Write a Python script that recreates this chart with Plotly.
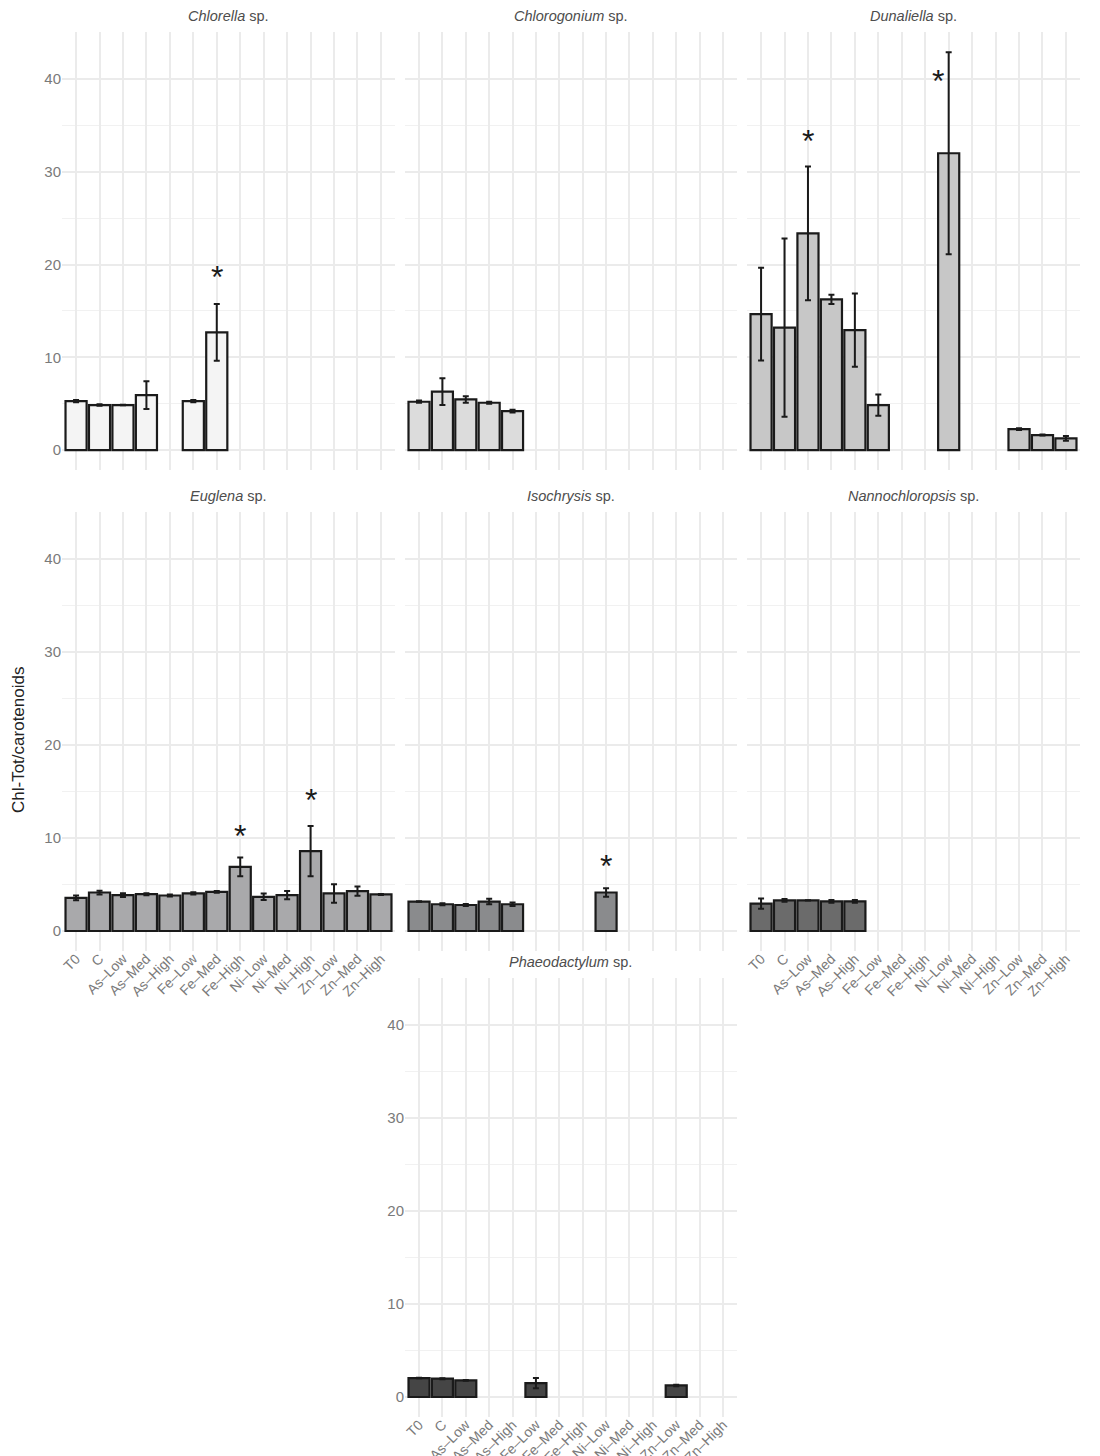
import plotly.graph_objects as go

# page offset of the plot div (browser default body margin)
OFF = 8
W, H = 1100 - OFF, 1456

categories = ["T0", "C", "As–Low", "As–Med", "As–High", "Fe–Low", "Fe–Med", "Fe–High",
              "Ni–Low", "Ni–Med", "Ni–High", "Zn–Low", "Zn–Med", "Zn–High"]

species = ["Chlorella", "Chlorogonium", "Dunaliella", "Euglena", "Isochrysis",
           "Nannochloropsis", "Phaeodactylum"]

N = None
chlorella_mean = [5.28, 4.85, 4.85, 5.93, N, 5.28, 12.69, N, N, N, N, N, N, N]
chlorella_err = [0.12, 0.08, 0.03, 1.5, N, 0.12, 3.05, N, N, N, N, N, N, N]
chlorogonium_mean = [5.21, 6.29, 5.46, 5.1, 4.2, N, N, N, N, N, N, N, N, N]
chlorogonium_err = [0.12, 1.44, 0.35, 0.12, 0.15, N, N, N, N, N, N, N, N, N]
dunaliella_mean = [14.66, 13.2, 23.36, 16.25, 12.94, 4.85, N, N, 32.0, N, N, 2.26, 1.62, 1.26]
dunaliella_err = [5.0, 9.6, 7.2, 0.5, 3.95, 1.15, N, N, 10.9, N, N, 0.1, 0.05, 0.25]
euglena_mean = [3.57, 4.14, 3.86, 3.96, 3.82, 4.04, 4.21, 6.9, 3.68, 3.86, 8.6, 4.04, 4.29, 3.93]
euglena_err = [0.25, 0.2, 0.2, 0.1, 0.1, 0.12, 0.1, 1.0, 0.35, 0.45, 2.7, 1.0, 0.5, 0.05]
isochrysis_mean = [3.17, 2.88, 2.8, 3.17, 2.88, N, N, N, 4.14, N, N, N, N, N]
isochrysis_err = [0.03, 0.1, 0.1, 0.3, 0.2, N, N, N, 0.45, N, N, N, N, N]
nannochloropsis_mean = [2.94, 3.3, 3.3, 3.19, 3.19, N, N, N, N, N, N, N, N, N]
nannochloropsis_err = [0.55, 0.15, 0.02, 0.15, 0.15, N, N, N, N, N, N, N, N, N]
phaeodactylum_mean = [2.04, 1.97, 1.79, N, N, 1.5, N, N, N, N, N, 1.25, N, N]
phaeodactylum_err = [0.03, 0.05, 0.03, N, N, 0.55, N, N, N, N, N, 0.08, N, N]

means = [chlorella_mean, chlorogonium_mean, dunaliella_mean, euglena_mean,
         isochrysis_mean, nannochloropsis_mean, phaeodactylum_mean]
errs = [chlorella_err, chlorogonium_err, dunaliella_err, euglena_err,
        isochrysis_err, nannochloropsis_err, phaeodactylum_err]

fills = ["#f4f4f4", "#dcdcdc", "#c7c7c7", "#a9a9ab", "#8a8b8d", "#6b6b6b", "#454545"]

# significance stars: (species index, category, y position, horizontal nudge px)
stars = [(0, "Fe–Med", 18.9, 0), (2, "As–Low", 33.5, 0), (2, "Ni–Low", 40.0, -11),
         (3, "Fe–High", 10.4, 0), (3, "Ni–High", 14.3, 0), (4, "Ni–Low", 7.2, 0)]

# panel pixel boxes in page pixels (left, right), (top, bottom)
cols = [(62, 395), (405, 737), (747, 1080)]
rows = [(32, 470), (512, 951), (978, 1417)]
panel_pos = [(0, 0), (0, 1), (0, 2), (1, 0), (1, 1), (1, 2), (2, 1)]
show_x = [False, False, False, True, False, True, True]
show_y = [True, False, False, True, False, False, True]

FONT = "Liberation Sans, Arial, sans-serif"
GRID = "#ebebeb"


def fx(px):
    return (px - OFF) / W


def fy(py):
    return 1 - (py - OFF) / H


fig = go.Figure()
layout = {}
annotations = []

for i, sp in enumerate(species):
    k = i + 1
    r, c = panel_pos[i]
    x0, x1 = cols[c]
    y0, y1 = rows[r]
    xa = "xaxis" if k == 1 else f"xaxis{k}"
    ya = "yaxis" if k == 1 else f"yaxis{k}"
    xref = "x" if k == 1 else f"x{k}"
    yref = "y" if k == 1 else f"y{k}"
    err = [e if e is not None else 0 for e in errs[i]]
    fig.add_trace(go.Bar(
        x=categories, y=means[i], xaxis=xref, yaxis=yref, width=0.9,
        marker=dict(color=fills[i], line=dict(color="#1a1a1a", width=2.2)),
        error_y=dict(type="data", array=err, color="#1a1a1a", thickness=2, width=3, visible=True),
        showlegend=False,
    ))
    layout[xa] = dict(
        domain=[fx(x0), fx(x1)], anchor=yref, type="category", automargin=False,
        categoryorder="array", categoryarray=categories, range=[-0.6, 13.6],
        showgrid=True, gridcolor=GRID, gridwidth=1.6, zeroline=False, showline=False,
        ticks="", showticklabels=show_x[i], tickangle=-45, ticklabelstandoff=-4,
        tickfont=dict(family=FONT, size=14, color="#7a7a7a"), fixedrange=True,
    )
    layout[ya] = dict(
        domain=[fy(y1), fy(y0)], anchor=xref, range=[-2.15, 45.07], automargin=False,
        tick0=0, dtick=10, showgrid=True, gridcolor=GRID, gridwidth=1.6,
        minor=dict(tick0=0, dtick=5, showgrid=True, gridcolor="#f1f1f1", gridwidth=1),
        zeroline=False, showline=False, ticks="", showticklabels=show_y[i],
        tickfont=dict(family=FONT, size=15, color="#7a7a7a"), fixedrange=True,
    )
    annotations.append(dict(
        text=f"<i>{sp}</i> sp.", xref="paper", yref="paper",
        x=fx((x0 + x1) / 2), y=fy(y0 - 16), xanchor="center", yanchor="middle",
        showarrow=False, font=dict(family=FONT, size=14.5, color="#4d4d4d"),
    ))

for si, cat, yv, xs in stars:
    k = si + 1
    annotations.append(dict(
        text="*", x=cat, y=yv, xref="x" if k == 1 else f"x{k}", yref="y" if k == 1 else f"y{k}",
        showarrow=False, xanchor="center", yanchor="middle", xshift=xs, yshift=-2,
        font=dict(family=FONT, size=32, color="#1a1a1a"),
    ))

annotations.append(dict(
    text="Chl-Tot/carotenoids", xref="paper", yref="paper", x=fx(18), y=fy(740),
    xanchor="center", yanchor="middle", textangle=-90, showarrow=False,
    font=dict(family=FONT, size=17, color="#222222"),
))

fig.update_layout(
    width=W, height=H, margin=dict(l=0, r=0, t=0, b=0, autoexpand=False),
    paper_bgcolor="white", plot_bgcolor="white",
    annotations=annotations, bargap=0.1, **layout,
)

fig.write_html("out.html")
